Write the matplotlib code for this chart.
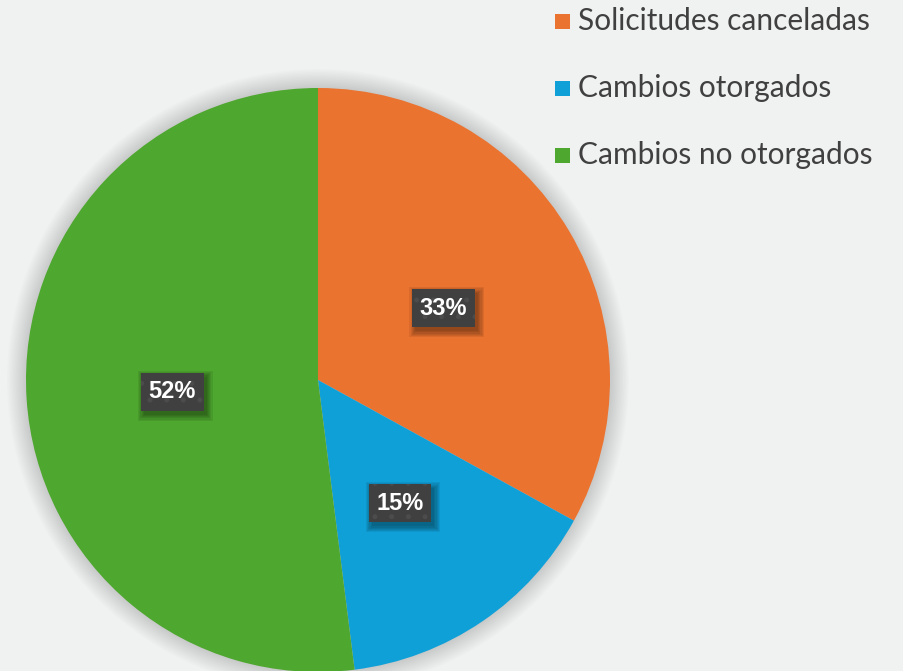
import matplotlib
matplotlib.use("Agg")
import matplotlib.pyplot as plt
import numpy as np
from matplotlib.patches import Rectangle, Circle

labels = ["Solicitudes canceladas", "Cambios otorgados", "Cambios no otorgados"]
shares = [33, 15, 52]
colors = ["#EB7330", "#10A0D8", "#4EA72E"]

W, H = 904, 671
BG = "#F0F1F1"
plt.rcParams["hatch.linewidth"] = 1.2

fig = plt.figure(figsize=(W / 100, H / 100), dpi=100, facecolor=BG)

# pie axes: centre (318, 380) px, radius 292 px
cx, cy, r = 318, 380, 292
ax = fig.add_axes([(cx - r) / W, (H - cy - r) / H, 2 * r / W, 2 * r / H])

# soft shadow under the pie
for k in range(14):
    ax.add_patch(Circle((0.0, 0.0), 1 + k * 0.005, color="black",
                        alpha=0.013, lw=0, zorder=0, clip_on=False))

wedges, _ = ax.pie(shares, colors=colors, startangle=90, counterclock=False,
                   radius=1, wedgeprops=dict(linewidth=0))
for w in wedges:
    w.set_zorder(1)
    w.set_clip_on(False)
ax.set_xlim(-1, 1)
ax.set_ylim(-1, 1)
ax.set_aspect("equal")
ax.axis("off")

total = sum(shares)
start = 90.0
pct_texts = []
for val in shares:
    ang = np.deg2rad(start - val / total * 360 / 2)
    start -= val / total * 360
    x, y = 0.5 * np.cos(ang), 0.5 * np.sin(ang)
    t = ax.text(x, y, f"{val}%", ha="center", va="center_baseline", fontsize=17,
                fontweight="bold", family="Liberation Sans", color="white",
                bbox=dict(boxstyle="square,pad=0.32", fc="#404040",
                          ec="#4c4c4c", lw=0, hatch="."),
                zorder=5)
    pct_texts.append(t)

# blurred drop shadow behind each label box (pixel coords)
fig.canvas.draw()
for t in pct_texts:
    bb = t.get_bbox_patch().get_window_extent()
    for k in range(6):
        g = k * 1.2
        ax.add_patch(Rectangle((bb.x0 + 3 - g, bb.y0 - 4 - g),
                               bb.width + 2 * g, bb.height + 2 * g,
                               transform=None, fc="black", ec="none",
                               alpha=0.07, zorder=3, clip_on=False))

# legend, top right
for i, (lab, col) in enumerate(zip(labels, colors)):
    yc = 21 + i * 67
    fig.patches.append(Rectangle((555 / W, (H - yc - 8) / H), 15 / W, 15 / H,
                                 transform=fig.transFigure, fc=col, ec="none"))
    fig.text(578 / W, (H - yc) / H, lab, ha="left", va="center",
             fontsize=21.5, color="#404040", family="Lato")

fig.savefig("out.png", dpi=100, facecolor=BG)
